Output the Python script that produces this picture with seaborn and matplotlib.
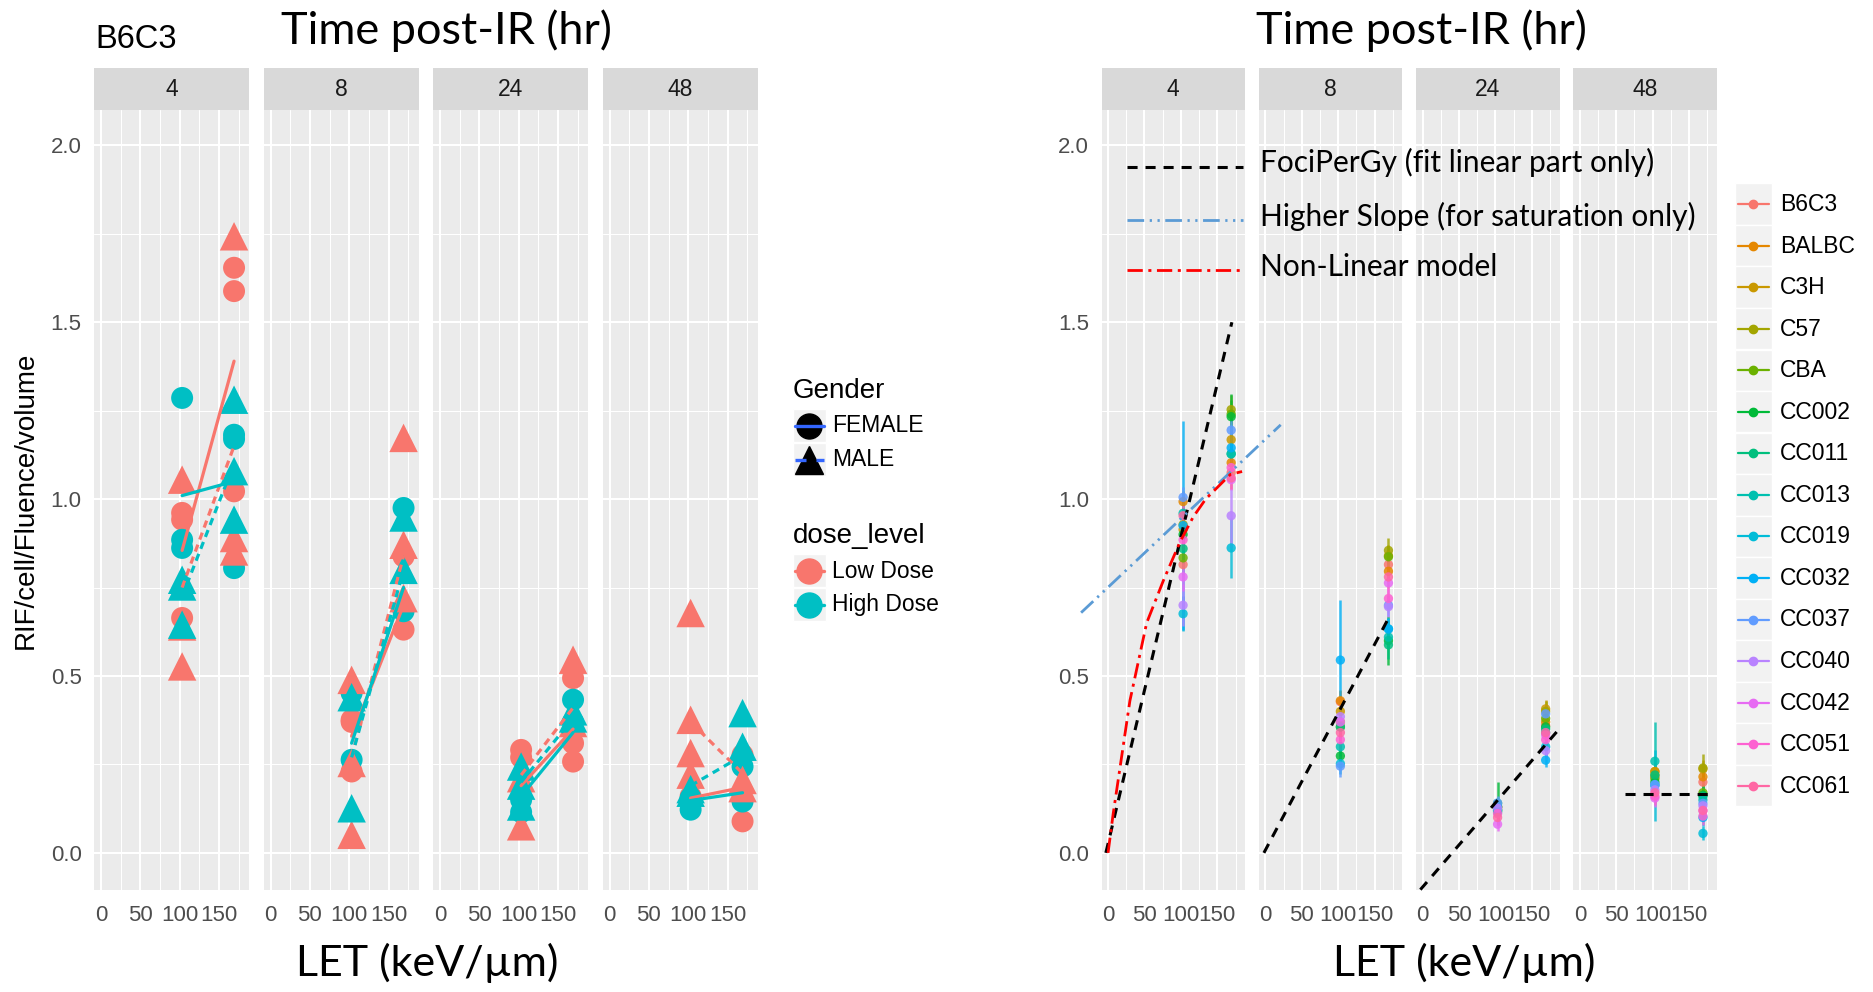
import numpy as np
import pandas as pd
import matplotlib
matplotlib.use("Agg")
import matplotlib.pyplot as plt
import seaborn as sns
from matplotlib.patches import Rectangle

# ---------------- data ----------------
times = [4, 8, 24, 48]
let_levels = [103, 169]
dose_levels = ["Low Dose", "High Dose"]
genders = ["FEMALE", "MALE"]

# left chart (B6C3) : groups in order (LET, dose, gender)
b6_groups = [(103, "Low Dose", "FEMALE"), (103, "High Dose", "FEMALE"),
             (103, "Low Dose", "MALE"), (103, "High Dose", "MALE"),
             (169, "Low Dose", "FEMALE"), (169, "High Dose", "FEMALE"),
             (169, "Low Dose", "MALE"), (169, "High Dose", "MALE")]
b6_t4 = [[0.961, 0.942, 0.664], [1.286, 0.885, 0.862], [1.055, 0.640, 0.527], [0.772, 0.753, 0.645],
         [1.654, 1.588, 1.022], [1.182, 0.805, 1.170], [1.743, 0.890, 0.852], [1.281, 1.079, 0.942]]
b6_t8 = [[0.376, 0.370, 0.230], [0.452, 0.263], [0.489, 0.254, 0.051], [0.440, 0.126],
         [0.838, 0.631], [0.975, 0.683], [1.173, 0.871, 0.720], [0.948, 0.800]]
b6_t24 = [[0.291, 0.270], [0.150, 0.115], [0.211, 0.075], [0.244, 0.190, 0.131],
          [0.494, 0.310, 0.258], [0.433, 0.370], [0.546, 0.367], [0.400, 0.380]]
b6_t48 = [[0.160], [0.155, 0.122], [0.678, 0.376, 0.282, 0.221], [0.170, 0.180],
          [0.277, 0.089], [0.244, 0.145], [0.206, 0.183], [0.395, 0.300]]

# group mean lines per time: [value at LET 103, value at LET 169]
line_low_female = [[0.855, 1.39], [0.33, 0.70], [0.19, 0.35], [0.155, 0.185]]
line_high_female = [[1.01, 1.05], [0.31, 0.75], [0.16, 0.34], [0.148, 0.17]]
line_low_male = [[0.75, 1.15], [0.27, 0.84], [0.22, 0.41], [0.37, 0.225]]
line_high_male = [[0.725, 1.10], [0.27, 0.80], [0.20, 0.38], [0.19, 0.275]]

# right chart: strains
strains = ["B6C3", "BALBC", "C3H", "C57", "CBA", "CC002", "CC011", "CC013",
           "CC019", "CC032", "CC037", "CC040", "CC042", "CC051", "CC061"]
t4_103_mean = [0.815, 0.993, 0.914, 0.928, 0.834, 0.900, 0.860, 0.960, 0.676, 0.925, 1.005, 0.700, 0.780, 0.885, 0.953]
t4_103_se = [0.03, 0.03, 0.03, 0.03, 0.03, 0.04, 0.03, 0.03, 0.05, 0.295, 0.03, 0.06, 0.04, 0.03, 0.03]
t4_169_mean = [1.075, 1.103, 1.168, 1.253, 1.240, 1.233, 1.128, 1.128, 0.862, 1.145, 1.195, 0.953, 1.055, 1.089, 1.060]
t4_169_se = [0.03, 0.03, 0.03, 0.04, 0.04, 0.065, 0.03, 0.03, 0.085, 0.03, 0.03, 0.09, 0.03, 0.03, 0.03]
t8_103_mean = [0.427, 0.430, 0.400, 0.370, 0.356, 0.274, 0.356, 0.300, 0.252, 0.545, 0.245, 0.385, 0.370, 0.320, 0.340]
t8_103_se = [0.03, 0.03, 0.03, 0.03, 0.03, 0.03, 0.03, 0.03, 0.03, 0.17, 0.03, 0.03, 0.03, 0.03, 0.03]
t8_169_mean = [0.815, 0.796, 0.840, 0.855, 0.837, 0.600, 0.588, 0.610, 0.633, 0.633, 0.700, 0.696, 0.763, 0.719, 0.780]
t8_169_se = [0.03, 0.03, 0.03, 0.035, 0.03, 0.07, 0.04, 0.03, 0.03, 0.03, 0.03, 0.03, 0.03, 0.03, 0.03]
t24_103_mean = [0.130, 0.125, 0.130, 0.120, 0.130, 0.140, 0.120, 0.115, 0.120, 0.130, 0.141, 0.126, 0.081, 0.111, 0.100]
t24_103_se = [0.02, 0.02, 0.02, 0.02, 0.02, 0.06, 0.02, 0.02, 0.02, 0.02, 0.02, 0.02, 0.02, 0.02, 0.02]
t24_169_mean = [0.360, 0.370, 0.407, 0.400, 0.380, 0.356, 0.350, 0.340, 0.300, 0.262, 0.393, 0.289, 0.333, 0.320, 0.340]
t24_169_se = [0.025, 0.025, 0.025, 0.03, 0.025, 0.025, 0.025, 0.025, 0.025, 0.02, 0.025, 0.025, 0.025, 0.025, 0.025]
t48_103_mean = [0.215, 0.230, 0.230, 0.220, 0.210, 0.200, 0.220, 0.259, 0.190, 0.193, 0.193, 0.178, 0.155, 0.160, 0.170]
t48_103_se = [0.025, 0.025, 0.025, 0.025, 0.025, 0.025, 0.025, 0.11, 0.10, 0.025, 0.025, 0.025, 0.025, 0.025, 0.025]
t48_169_mean = [0.200, 0.215, 0.237, 0.240, 0.170, 0.163, 0.160, 0.150, 0.055, 0.100, 0.140, 0.133, 0.119, 0.104, 0.120]
t48_169_se = [0.025, 0.025, 0.025, 0.04, 0.025, 0.025, 0.025, 0.025, 0.02, 0.025, 0.025, 0.025, 0.025, 0.025, 0.025]

# overlay fit lines (right chart), per time: x pair, y pair
fociper_x = [[-3, 170], [-2, 170], [-3, 190], [62, 181]]
fociper_y = [[0.0, 1.5], [0.0, 0.667], [-0.104, 0.356], [0.167, 0.167]]
higher_x = [-37, 237]
higher_y = [0.679, 1.21]
nonlin_x = [0, 7, 30, 53, 76, 99, 117, 134, 168, 184]
nonlin_y = [0.0, 0.11, 0.43, 0.65, 0.77, 0.88, 0.95, 1.0, 1.07, 1.078]

x_ticklabels = ["0", "50", "100", "150"]
y_ticklabels = ["0.0", "0.5", "1.0", "1.5", "2.0"]

# ---------------- tables ----------------
rows = []
for t, block in zip(times, [b6_t4, b6_t8, b6_t24, b6_t48]):
    for (let, dose, g), vals in zip(b6_groups, block):
        for v in vals:
            rows.append((t, let, dose, g, v))
left_df = pd.DataFrame(rows, columns=["time", "LET", "dose", "gender", "value"])

lrows = []
for i, t in enumerate(times):
    for dose, g, arr in [("Low Dose", "FEMALE", line_low_female), ("High Dose", "FEMALE", line_high_female),
                         ("Low Dose", "MALE", line_low_male), ("High Dose", "MALE", line_high_male)]:
        for let, v in zip(let_levels, arr[i]):
            lrows.append((t, let, dose, g, v))
line_df = pd.DataFrame(lrows, columns=["time", "LET", "dose", "gender", "value"])

rrows = []
right_sets = {4: [(103, t4_103_mean, t4_103_se), (169, t4_169_mean, t4_169_se)],
              8: [(103, t8_103_mean, t8_103_se), (169, t8_169_mean, t8_169_se)],
              24: [(103, t24_103_mean, t24_103_se), (169, t24_169_mean, t24_169_se)],
              48: [(103, t48_103_mean, t48_103_se), (169, t48_169_mean, t48_169_se)]}
for t in times:
    for let, m, s in right_sets[t]:
        for st, mv, sv in zip(strains, m, s):
            rrows.append((t, let, st, mv, sv))
right_df = pd.DataFrame(rrows, columns=["time", "LET", "strain", "mean", "se"])

# ---------------- style ----------------
W, H = 1873, 992
sns.set_theme(style="darkgrid")
plt.rcParams["font.family"] = ["Liberation Sans", "DejaVu Sans"]
TITLE_FONT = ["Lato", "DejaVu Sans"]

dose_pal = {"Low Dose": "#F8766D", "High Dose": "#00BFC4"}
hue15 = ["#F8766D", "#E58700", "#C99800", "#A3A500", "#6BB100", "#00BA38", "#00BF7D", "#00C0AF",
         "#00BCD8", "#00B0F6", "#619CFF", "#B983FF", "#E76BF3", "#FD61D1", "#FF67A4"]
strain_pal = dict(zip(strains, hue15))

fig = plt.figure(figsize=(W / 100, H / 100), dpi=100)
fig.patch.set_facecolor("white")


def px_axes(x0, y0, x1, y1, **kw):
    return fig.add_axes([x0 / W, 1 - y1 / H, (x1 - x0) / W, (y1 - y0) / H], **kw)


PANEL_TOP, PANEL_BOT, STRIP_TOP = 110, 890, 68


def style_panel(ax, show_y):
    ax.set_facecolor("#EBEBEB")
    for s in ax.spines.values():
        s.set_visible(False)
    ax.set_xlim(-9, 188)
    ax.set_ylim(-0.105, 2.1)
    ax.set_xticks([0, 50, 100, 150])
    ax.set_xticklabels(x_ticklabels)
    ax.set_xticks([25, 75, 125, 175], minor=True)
    ax.set_yticks([0, 0.5, 1.0, 1.5, 2.0])
    ax.set_yticklabels(y_ticklabels)
    ax.set_yticks([0.25, 0.75, 1.25, 1.75], minor=True)
    ax.grid(True, which="major", color="white", lw=1.5)
    ax.grid(True, which="minor", color="white", lw=0.75)
    ax.set_axisbelow(True)
    ax.tick_params(which="minor", length=0)
    ax.tick_params(which="major", length=5, width=0.9, color="#333333",
                   labelsize=16, labelcolor="#4D4D4D", pad=4)
    ax.tick_params(axis="x", pad=6)
    if not show_y:
        ax.tick_params(axis="y", which="major", length=0, labelleft=False)
    ax.set_xlabel("")
    ax.set_ylabel("")


def strip(x0, x1, label):
    sa = px_axes(x0, STRIP_TOP, x1, PANEL_TOP)
    sa.set_facecolor("#D9D9D9")
    sa.grid(False)
    sa.set_xticks([])
    sa.set_yticks([])
    for s in sa.spines.values():
        s.set_visible(False)
    sa.text(0.5, 0.5, label, ha="center", va="center", fontsize=16.5, color="#1A1A1A",
            transform=sa.transAxes)


# ---------------- left chart ----------------
L_LEFT = [94, 263.5, 433, 602.5]
L_W = 155
for i, t in enumerate(times):
    ax = px_axes(L_LEFT[i], PANEL_TOP, L_LEFT[i] + L_W, PANEL_BOT)
    style_panel(ax, i == 0)
    strip(L_LEFT[i], L_LEFT[i] + L_W, str(t))
    sub = left_df[left_df.time == t]
    sns.scatterplot(data=sub[sub.gender == "FEMALE"], x="LET", y="value", hue="dose",
                    hue_order=dose_levels, palette=dose_pal, marker="o", s=250,
                    linewidth=0, legend=False, ax=ax)
    sns.scatterplot(data=sub[sub.gender == "MALE"], x="LET", y="value", hue="dose",
                    hue_order=dose_levels, palette=dose_pal, marker="^", s=420,
                    linewidth=0, legend=False, ax=ax)
    sns.lineplot(data=line_df[line_df.time == t], x="LET", y="value", hue="dose",
                 style="gender", hue_order=dose_levels, style_order=genders,
                 palette=dose_pal, dashes={"FEMALE": "", "MALE": (2.3, 1.7)},
                 lw=2.3, legend=False, ax=ax, zorder=4)
    ax.set_xlim(-9, 188)
    ax.set_ylim(-0.105, 2.1)
    ax.set_xlabel("")
    ax.set_ylabel("")

# ---------------- right chart ----------------
R_LEFT = [1101.5, 1258.8, 1416.0, 1573.3]
R_W = 143.5
for i, t in enumerate(times):
    ax = px_axes(R_LEFT[i], PANEL_TOP, R_LEFT[i] + R_W, PANEL_BOT)
    style_panel(ax, i == 0)
    strip(R_LEFT[i], R_LEFT[i] + R_W, str(t))
    if i == 0:
        ax.set_zorder(5)
    sub = right_df[right_df.time == t]
    ax.vlines(sub["LET"], sub["mean"] - sub["se"], sub["mean"] + sub["se"],
              colors=[strain_pal[s] for s in sub["strain"]], lw=1.8, alpha=0.8, zorder=2)
    sns.scatterplot(data=sub, x="LET", y="mean", hue="strain", hue_order=strains,
                    palette=strain_pal, s=45, linewidth=0, alpha=0.85, legend=False,
                    ax=ax, zorder=3)
    ax.plot(fociper_x[i], fociper_y[i], color="black", lw=2.2, dashes=(3.3, 2.6),
            zorder=5, clip_on=False)
    if i == 0:
        ax.plot(higher_x, higher_y, color="#5B9BD5", lw=2.0,
                dashes=(6, 2, 0.8, 2, 0.8, 2), zorder=5, clip_on=False)
        ax.plot(nonlin_x, nonlin_y, color="#FF0000", lw=2.0,
                dashes=(5.5, 2, 1.1, 2), zorder=6, clip_on=False)
    ax.set_xlim(-9, 188)
    ax.set_ylim(-0.105, 2.1)
    ax.set_xlabel("")
    ax.set_ylabel("")

# ---------------- overlay: titles, legends ----------------
ov = fig.add_axes([0, 0, 1, 1], zorder=20)
ov.set_xlim(0, W)
ov.set_ylim(H, 0)
ov.set_axis_off()

ov.text(95, 40, "B6C3", fontsize=23.5, ha="left", va="center", color="black")
ov.text(446, 31, "Time post-IR (hr)", fontsize=32.5, ha="center", va="center",
        family=TITLE_FONT, color="black")
ov.text(1421, 31, "Time post-IR (hr)", fontsize=32.5, ha="center", va="center",
        family=TITLE_FONT, color="black")
ov.text(427, 963, "LET (keV/\u00b5m)", fontsize=31, ha="center", va="center",
        family=TITLE_FONT, color="black")
ov.text(1464, 963, "LET (keV/\u00b5m)", fontsize=31, ha="center", va="center",
        family=TITLE_FONT, color="black")
ov.text(26, 500, "RIF/cell/Fluence/volume", fontsize=20, rotation=90,
        ha="center", va="center", color="black")

# left legends
ov.text(793, 391, "Gender", fontsize=20, ha="left", va="center", color="black")
for ytop, lab in [(409, "FEMALE"), (443, "MALE")]:
    ov.add_patch(Rectangle((793, ytop), 33, 33, facecolor="#F2F2F2", edgecolor="white", lw=1))
    cy = ytop + 16.5
    ov.plot([809.5], [cy], marker="o" if lab == "FEMALE" else "^", color="black",
            markersize=18 if lab == "FEMALE" else 20, linestyle="none")
    if lab == "FEMALE":
        ov.plot([795, 824], [cy, cy], color="#3366FF", lw=2.4)
    else:
        ov.plot([795, 824], [cy, cy], color="#3366FF", lw=2.4, dashes=(3.3, 3))
    ov.text(832, cy + 0.5, lab, fontsize=16.5, ha="left", va="center", color="black")

ov.text(793, 536, "dose_level", fontsize=20, ha="left", va="center", color="black")
for ytop, lab in [(554, "Low Dose"), (588, "High Dose")]:
    ov.add_patch(Rectangle((793, ytop), 33, 33, facecolor="#F2F2F2", edgecolor="white", lw=1))
    cy = ytop + 16.5
    ov.plot([795, 824], [cy, cy], color=dose_pal[lab], lw=2.4)
    ov.plot([809.5], [cy], marker="o", color=dose_pal[lab], markersize=18, linestyle="none")
    ov.text(832, cy + 0.5, lab, fontsize=16.5, ha="left", va="center", color="black")

# right strain legend
for k, st in enumerate(strains):
    cy = 204 + k * 41.55
    ov.add_patch(Rectangle((1735, cy - 20.7), 37, 41.4, facecolor="#F2F2F2", edgecolor="white", lw=1))
    ov.plot([1738, 1769], [cy, cy], color=strain_pal[st], lw=1.6)
    ov.plot([1753.5], [cy], marker="o", color=strain_pal[st], markersize=6, linestyle="none")
    ov.text(1780, cy + 0.5, st, fontsize=16.5, ha="left", va="center", color="black")

# right annotation legend
ov.plot([1127, 1243], [167, 167], color="black", lw=2.2, dashes=(3.3, 2.6))
ov.plot([1127, 1243], [220, 220], color="#5B9BD5", lw=2.0, dashes=(6, 2, 0.8, 2, 0.8, 2))
ov.plot([1127, 1243], [270, 270], color="#FF0000", lw=2.0, dashes=(5.5, 2, 1.1, 2))
ov.text(1260, 162, "FociPerGy (fit linear part only)", fontsize=21.5, family=TITLE_FONT,
        ha="left", va="center", color="black")
ov.text(1260, 216, "Higher Slope (for saturation only)", fontsize=21.5, family=TITLE_FONT,
        ha="left", va="center", color="black")
ov.text(1260, 267, "Non-Linear model", fontsize=21.5, family=TITLE_FONT,
        ha="left", va="center", color="black")

fig.savefig("out.png", dpi=100, facecolor="white")
